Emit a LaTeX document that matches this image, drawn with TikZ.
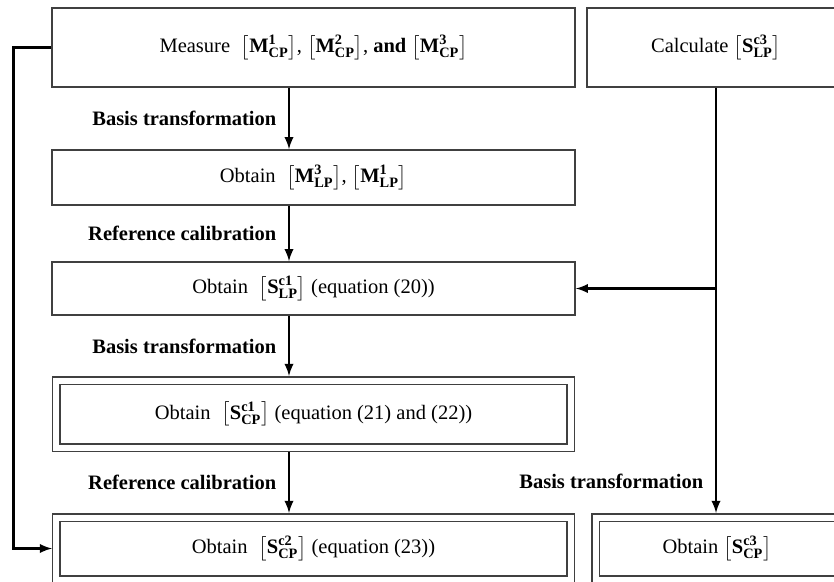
\documentclass[tikz,border=0pt]{standalone}
\usepackage{amsmath}
\usepackage{fontspec}
\setmainfont{Liberation Serif}
\usetikzlibrary{arrows, positioning}

\newcommand{\mterm}[3]{\left[\textbf{#1}^{\textbf{#2}}_{\textbf{#3}}\right]}

\tikzset{
    box/.style={draw=black!75, line width=1.3pt, inner sep=0pt},
    dbox/.style={box, double, double distance=0.18cm, outer sep=0.135cm},
    flow/.style={-latex, line width=2.5pt},
    steplabel/.style={font=\fontsize{17.5}{21}\selectfont\bfseries, left=0.22cm}
}

\begin{document}
\begin{tikzpicture}[x=0.03cm, y=-0.03cm, font=\fontsize{17.5}{21}\selectfont]
    \useasboundingbox (0,0) rectangle (834,581);

    % left column
    \node[box, minimum width=15.69cm, minimum height=2.37cm] (measure) at (313.5,47.5)
        {Measure \;$\mterm{M}{1}{CP}$, $\mterm{M}{2}{CP}$, \textbf{and} $\mterm{M}{3}{CP}$};
    \node[box, minimum width=15.69cm, minimum height=1.65cm] (obtainM) at (313.5,177.5)
        {Obtain \;$\mterm{M}{3}{LP}$, $\mterm{M}{1}{LP}$};
    \node[box, minimum width=15.69cm, minimum height=1.59cm] (obtainSLP) at (313.5,288.5)
        {Obtain \;$\mterm{S}{c1}{LP}$ (equation (20))};
    \node[dbox, minimum width=15.42cm, minimum height=2.01cm] (obtainSCP) at (313.5,414)
        {Obtain \;$\mterm{S}{c1}{CP}$ (equation (21) and (22))};
    \node[dbox, minimum width=15.42cm, minimum height=1.86cm] (obtainSCPtwo) at (313.5,548.5)
        {Obtain \;$\mterm{S}{c2}{CP}$ (equation (23))};

    % right column
    \node[box, minimum width=7.74cm, minimum height=2.37cm] (calc) at (716,47.5)
        {Calculate $\mterm{S}{c3}{LP}$};
    \node[dbox, minimum width=7.29cm, minimum height=1.86cm] (obtainSCPthree) at (717,548.5)
        {Obtain $\mterm{S}{c3}{CP}$};

    \coordinate (axis) at (289,0);

    % main flow
    \draw[flow] (measure.south -| axis) -- node[steplabel] {Basis transformation} (obtainM.north -| axis);
    \draw[flow] (obtainM.south -| axis) -- node[steplabel] {Reference calibration} (obtainSLP.north -| axis);
    \draw[flow] (obtainSLP.south -| axis) -- node[steplabel] {Basis transformation} (obtainSCP.north -| axis);
    \draw[flow] (obtainSCP.south -| axis) -- node[steplabel] {Reference calibration} (obtainSCPtwo.north -| axis);

    % side flows
    \draw[flow] (calc.south) -- node[steplabel, pos=0.925] {Basis transformation} (calc.south |- obtainSCPthree.north);
    \draw[flow] (calc.south |- obtainSLP.east) -- (obtainSLP.east);
    \draw[flow] (measure.west) -- ++(-38,0) |- (obtainSCPtwo.west);
\end{tikzpicture}
\end{document}
